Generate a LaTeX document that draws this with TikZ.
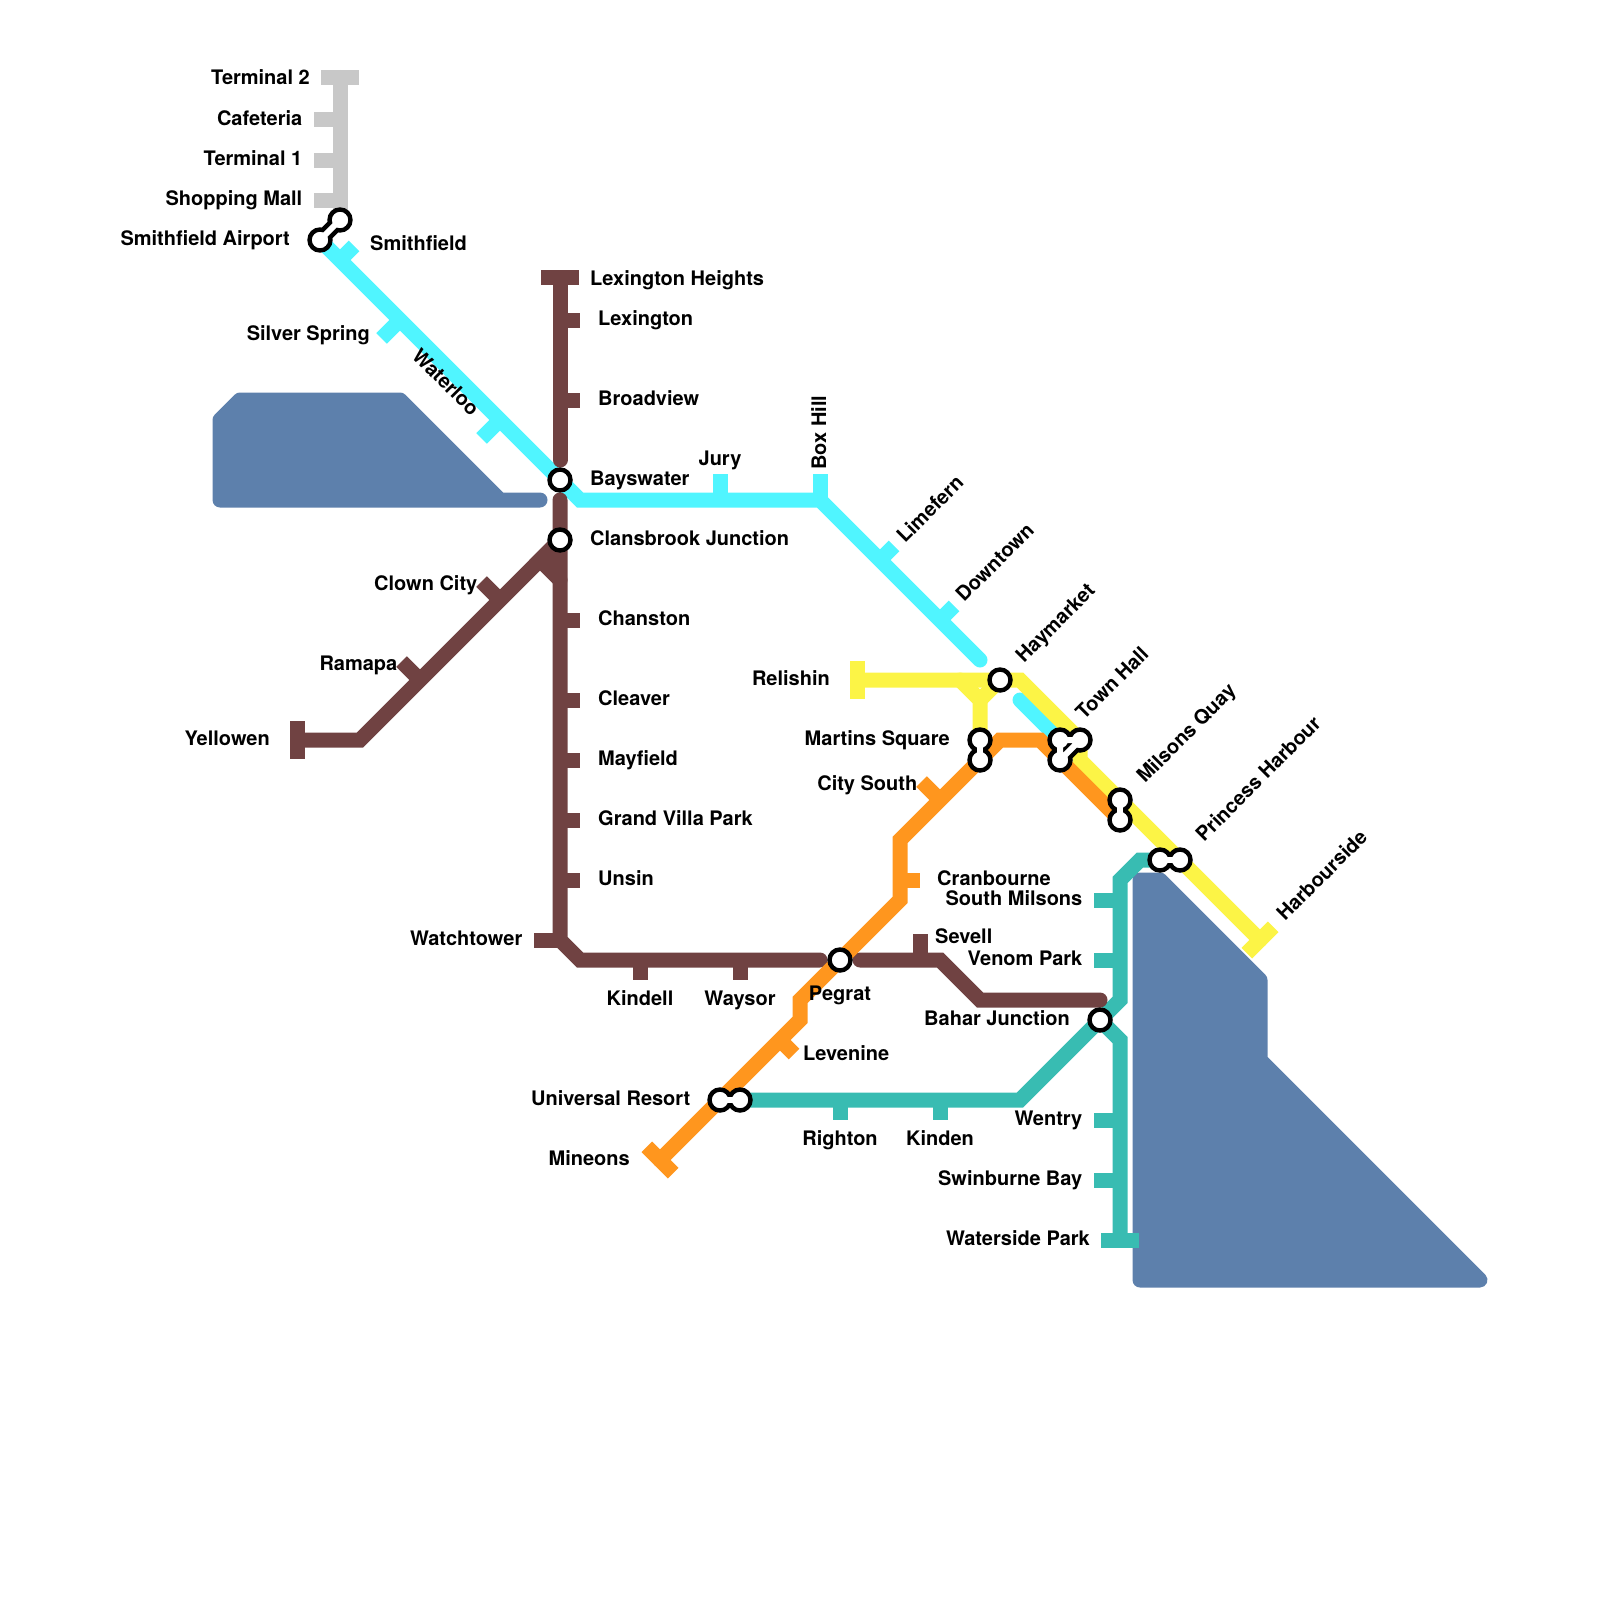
\documentclass[tikz,border=0pt]{standalone}
\usepackage{fontspec}
\setmainfont{TeX Gyre Heros}
\definecolor{MapGrey}{RGB}{200,200,200}
\definecolor{MapCyan}{RGB}{80,245,255}
\definecolor{MapBrown}{RGB}{112,66,66}
\definecolor{MapYellow}{RGB}{252,244,70}
\definecolor{MapOrange}{RGB}{255,150,30}
\definecolor{MapTeal}{RGB}{56,188,178}
\definecolor{MapWater}{RGB}{93,128,172}
\begin{document}
\begin{tikzpicture}[x=1pt,y=-1pt,
    water/.style={draw=MapWater,fill=MapWater,line width=15pt,line join=round,line cap=round},
    route/.style={line width=15pt,line cap=round},
    stub/.style={line width=15pt,line cap=butt},
    linkblack/.style={line width=15pt,line join=round,black},
    linkwhite/.style={line width=6pt,line join=round,white},
    stn/.style={circle,draw=black,fill=white,line width=4.4pt,minimum size=21pt,inner sep=0pt},
    lbl/.style={font=\fontsize{20}{24}\selectfont\bfseries,inner sep=0pt,text=black},
    lble/.style={lbl,anchor=base east},
    lblw/.style={lbl,anchor=base west},
    lblc/.style={lbl,anchor=base}]
  \useasboundingbox (0,0) rectangle (1600,1600);

  \coordinate (terminaltwo) at (340,77.5);
  \coordinate (cafeteria) at (340,120);
  \coordinate (terminalone) at (340,160);
  \coordinate (shopping) at (340,200);
  \coordinate (airportgrey) at (340,220);
  \coordinate (airport) at (320,240);
  \coordinate (smithfield) at (340,260);
  \coordinate (silver) at (400,320);
  \coordinate (waterloo) at (500,420);
  \coordinate (bayswater) at (560,480);
  \coordinate (cyanA) at (580,500);
  \coordinate (jury) at (720,500);
  \coordinate (boxhill) at (820,500);
  \coordinate (limefern) at (880,560);
  \coordinate (downtown) at (940,620);
  \coordinate (cyanB) at (980,660);
  \coordinate (cyanC) at (1020,700);
  \coordinate (townA) at (1060,740);
  \coordinate (townB) at (1080,740);
  \coordinate (townC) at (1060,760);
  \coordinate (lexheights) at (560,277.5);
  \coordinate (lexington) at (560,320);
  \coordinate (broadview) at (560,400);
  \coordinate (brownA) at (560,460);
  \coordinate (brownB) at (560,500);
  \coordinate (clansbrook) at (560,540);
  \coordinate (brownC) at (540,560);
  \coordinate (brownD) at (560,580);
  \coordinate (chanston) at (560,620);
  \coordinate (cleaver) at (560,700);
  \coordinate (mayfield) at (560,760);
  \coordinate (grandvilla) at (560,820);
  \coordinate (unsin) at (560,880);
  \coordinate (watchtower) at (560,940);
  \coordinate (brownE) at (580,960);
  \coordinate (kindell) at (640,960);
  \coordinate (waysor) at (740,960);
  \coordinate (brownF) at (820,960);
  \coordinate (pegrat) at (840,960);
  \coordinate (brownG) at (860,960);
  \coordinate (sevell) at (920,960);
  \coordinate (brownH) at (940,960);
  \coordinate (brownI) at (980,1000);
  \coordinate (brownJ) at (1100,1000);
  \coordinate (clown) at (500,600);
  \coordinate (ramapa) at (420,680);
  \coordinate (brownK) at (360,740);
  \coordinate (yellowen) at (297.5,740);
  \coordinate (relishin) at (857.5,680);
  \coordinate (yellowA) at (960,680);
  \coordinate (yellowB) at (980,700);
  \coordinate (martins) at (980,740);
  \coordinate (haymarket) at (1000,680);
  \coordinate (yellowC) at (1020,680);
  \coordinate (yellowD) at (1080,760);
  \coordinate (harbourside) at (1260,940);
  \coordinate (milsonsA) at (1120,800);
  \coordinate (milsonsB) at (1120,820);
  \coordinate (princessA) at (1160,860);
  \coordinate (princessB) at (1180,860);
  \coordinate (mineons) at (660,1160);
  \coordinate (universalA) at (720,1100);
  \coordinate (universalB) at (740,1100);
  \coordinate (levenine) at (780,1040);
  \coordinate (orangeA) at (800,1020);
  \coordinate (orangeB) at (800,1000);
  \coordinate (orangeC) at (900,900);
  \coordinate (cranbourne) at (900,880);
  \coordinate (orangeD) at (900,840);
  \coordinate (citysouth) at (940,800);
  \coordinate (martinsB) at (980,760);
  \coordinate (orangeE) at (1000,740);
  \coordinate (orangeF) at (1040,740);
  \coordinate (tealA) at (1140,860);
  \coordinate (tealB) at (1120,880);
  \coordinate (southmilsons) at (1120,900);
  \coordinate (venom) at (1120,960);
  \coordinate (tealC) at (1120,1000);
  \coordinate (bahar) at (1100,1020);
  \coordinate (tealD) at (1120,1040);
  \coordinate (wentry) at (1120,1120);
  \coordinate (swinburne) at (1120,1180);
  \coordinate (waterside) at (1120,1240);
  \coordinate (tealE) at (1020,1100);
  \coordinate (kinden) at (940,1100);
  \coordinate (righton) at (840,1100);

  \draw[water] (220,420) -- (240,400) -- (400,400) -- (500,500) -- (540,500) -- (220,500) -- cycle;
  \draw[water] (1140,880) -- (1160,880) -- (1260,980) -- (1260,1060) -- (1480,1280) -- (1140,1280) -- cycle;

  \draw[route,MapGrey] (terminaltwo) -- (airportgrey);
  \draw[stub,MapGrey] (terminaltwo) ++(-18.7,0) -- ++(37.4,0);
  \draw[stub,MapGrey] (cafeteria) -- ++(-26,0);
  \draw[stub,MapGrey] (terminalone) -- ++(-26,0);
  \draw[stub,MapGrey] (shopping) -- ++(-26,0);

  \draw[route,MapCyan] (airport) -- (bayswater) -- (cyanA) -- (boxhill) -- (cyanB);
  \draw[route,MapCyan] (cyanC) -- (townA);
  \draw[stub,MapCyan] (smithfield) -- ++(14.1,-14.1);
  \draw[stub,MapCyan] (silver) -- ++(-18.4,18.4);
  \draw[stub,MapCyan] (waterloo) -- ++(-18.4,18.4);
  \draw[stub,MapCyan] (jury) -- ++(0,-26);
  \draw[stub,MapCyan] (boxhill) -- ++(0,-26);
  \draw[stub,MapCyan] (limefern) -- ++(14.1,-14.1);
  \draw[stub,MapCyan] (downtown) -- ++(14.1,-14.1);

  \draw[route,MapTeal] (princessA) -- (tealA) -- (tealB) -- (tealC) -- (bahar) -- (tealE) -- (universalB);
  \draw[route,MapTeal] (bahar) -- (tealD) -- (waterside);
  \draw[stub,MapTeal] (waterside) ++(-18.7,0) -- ++(37.4,0);
  \draw[stub,MapTeal] (southmilsons) -- ++(-26,0);
  \draw[stub,MapTeal] (venom) -- ++(-26,0);
  \draw[stub,MapTeal] (wentry) -- ++(-26,0);
  \draw[stub,MapTeal] (swinburne) -- ++(-26,0);
  \draw[stub,MapTeal] (righton) -- ++(0,20);
  \draw[stub,MapTeal] (kinden) -- ++(0,20);

  \draw[route,MapBrown] (lexheights) -- (brownA);
  \draw[route,MapBrown] (brownB) -- (watchtower) -- (brownE) -- (brownF);
  \draw[route,MapBrown] (brownG) -- (brownH) -- (brownI) -- (brownJ);
  \draw[route,MapBrown] (yellowen) -- (brownK) -- (clansbrook);
  \draw[route,MapBrown,fill=MapBrown] (brownD) -- (brownC) -- (clansbrook);
  \draw[stub,MapBrown] (lexheights) ++(-18.7,0) -- ++(37.4,0);
  \draw[stub,MapBrown] (yellowen) ++(0,-18.7) -- ++(0,37.4);
  \draw[stub,MapBrown] (lexington) -- ++(20,0);
  \draw[stub,MapBrown] (broadview) -- ++(20,0);
  \draw[stub,MapBrown] (chanston) -- ++(20,0);
  \draw[stub,MapBrown] (cleaver) -- ++(20,0);
  \draw[stub,MapBrown] (mayfield) -- ++(20,0);
  \draw[stub,MapBrown] (grandvilla) -- ++(20,0);
  \draw[stub,MapBrown] (unsin) -- ++(20,0);
  \draw[stub,MapBrown] (watchtower) -- ++(-26,0);
  \draw[stub,MapBrown] (kindell) -- ++(0,20);
  \draw[stub,MapBrown] (waysor) -- ++(0,20);
  \draw[stub,MapBrown] (sevell) -- ++(0,-26);
  \draw[stub,MapBrown] (clown) -- ++(-18.4,-18.4);
  \draw[stub,MapBrown] (ramapa) -- ++(-18.4,-18.4);

  \draw[route,MapYellow] (relishin) -- (yellowC) -- (townB) -- (yellowD) -- (harbourside);
  \draw[route,MapYellow] (yellowA) -- (yellowB) -- (martins);
  \draw[route,MapYellow] (haymarket) -- (yellowB);
  \draw[stub,MapYellow] (relishin) ++(0,-18.7) -- ++(0,37.4);
  \draw[stub,MapYellow] (harbourside) ++(13.2,-13.2) -- ++(-26.4,26.4);

  \draw[route,MapOrange] (mineons) -- (universalA) -- (orangeA) -- (orangeB) -- (pegrat) -- (orangeC) -- (orangeD) -- (martinsB) -- (orangeE) -- (orangeF) -- (milsonsB);
  \draw[stub,MapOrange] (mineons) ++(-13.2,-13.2) -- ++(26.4,26.4);
  \draw[stub,MapOrange] (cranbourne) -- ++(20,0);
  \draw[stub,MapOrange] (citysouth) -- ++(-18.4,-18.4);
  \draw[stub,MapOrange] (levenine) -- ++(14.1,14.1);

  \draw[linkblack] (airport) -- (airportgrey);
  \draw[linkblack] (martins) -- (martinsB);
  \draw[linkblack] (townA) -- (townB) -- (townC) -- cycle;
  \draw[linkblack] (milsonsA) -- (milsonsB);
  \draw[linkblack] (princessA) -- (princessB);
  \draw[linkblack] (universalA) -- (universalB);

  \node[stn] (airportstn) at (airport) {};
  \node[stn] (airportgreystn) at (airportgrey) {};
  \node[stn] (bayswaterstn) at (bayswater) {};
  \node[stn] (clansbrookstn) at (clansbrook) {};
  \node[stn] (pegratstn) at (pegrat) {};
  \node[stn] (haymarketstn) at (haymarket) {};
  \node[stn] (baharstn) at (bahar) {};
  \node[stn] (martinsstn) at (martins) {};
  \node[stn] (martinsBstn) at (martinsB) {};
  \node[stn] (townAstn) at (townA) {};
  \node[stn] (townBstn) at (townB) {};
  \node[stn] (townCstn) at (townC) {};
  \node[stn] (milsonsAstn) at (milsonsA) {};
  \node[stn] (milsonsBstn) at (milsonsB) {};
  \node[stn] (princessAstn) at (princessA) {};
  \node[stn] (princessBstn) at (princessB) {};
  \node[stn] (universalAstn) at (universalA) {};
  \node[stn] (universalBstn) at (universalB) {};

  \draw[linkwhite] (airportstn.center) -- (airportgreystn.center);
  \draw[linkwhite] (martinsstn.center) -- (martinsBstn.center);
  \draw[linkwhite] (townAstn.center) -- (townBstn.center) -- (townCstn.center) -- cycle;
  \draw[linkwhite] (milsonsAstn.center) -- (milsonsBstn.center);
  \draw[linkwhite] (princessAstn.center) -- (princessBstn.center);
  \draw[linkwhite] (universalAstn.center) -- (universalBstn.center);

  \node[lble] (lterminaltwo) at (310,85) {Terminal 2};
  \node[lble] (lcafeteria) at (302.5,125) {Cafeteria};
  \node[lble] (lterminalone) at (302.5,165) {Terminal 1};
  \node[lble] (lshopping) at (302.5,205) {Shopping Mall};
  \node[lble] (lairport) at (290,245) {Smithfield Airport};
  \node[lblw] (lsmithfield) at (370,250) {Smithfield};
  \node[lble] (lsilver) at (370,340) {Silver Spring};
  \node[lbl,rotate=-45] (lwaterloo) at (446,382) {Waterloo};
  \node[lblw] (llexheights) at (590,285) {Lexington Heights};
  \node[lblw] (llexington) at (598,325) {Lexington};
  \node[lblw] (lbroadview) at (598,405) {Broadview};
  \node[lblw] (lbayswater) at (590,485) {Bayswater};
  \node[lblc] (ljury) at (720,465) {Jury};
  \node[lbl,rotate=90,anchor=base west] (lboxhill) at (826,470) {Box Hill};
  \node[lbl,rotate=45,anchor=base west] (llimefern) at (905,544) {Limefern};
  \node[lbl,rotate=45,anchor=base west] (ldowntown) at (964,603) {Downtown};
  \node[lbl,rotate=45,anchor=base west] (lhaymarket) at (1024,664) {Haymarket};
  \node[lbl,rotate=45,anchor=base west] (ltown) at (1084,721) {Town Hall};
  \node[lbl,rotate=45,anchor=base west] (lmilsons) at (1145,784) {Milsons Quay};
  \node[lbl,rotate=45,anchor=base west] (lprincess) at (1204,843) {Princess Harbour};
  \node[lbl,rotate=45,anchor=base west] (lharbourside) at (1285,922) {Harbourside};
  \node[lblw] (lclansbrook) at (590,545) {Clansbrook Junction};
  \node[lble] (lclown) at (477.5,590) {Clown City};
  \node[lble] (lramapa) at (397.5,670) {Ramapa};
  \node[lble] (lyellowen) at (270,745) {Yellowen};
  \node[lblw] (lchanston) at (598,625) {Chanston};
  \node[lblw] (lcleaver) at (598,705) {Cleaver};
  \node[lblw] (lmayfield) at (598,765) {Mayfield};
  \node[lblw] (lgrandvilla) at (598,825) {Grand Villa Park};
  \node[lblw] (lunsin) at (598,885) {Unsin};
  \node[lble] (lwatchtower) at (522.5,945) {Watchtower};
  \node[lblc] (lkindell) at (640,1005) {Kindell};
  \node[lblc] (lwaysor) at (740,1005) {Waysor};
  \node[lblc] (lpegrat) at (840,1000) {Pegrat};
  \node[lblw] (lsevell) at (935,943) {Sevell};
  \node[lble] (lrelishin) at (830,685) {Relishin};
  \node[lble] (lmartins) at (950,745) {Martins Square};
  \node[lble] (lcitysouth) at (917.5,790) {City South};
  \node[lblw] (lcranbourne) at (937,885) {Cranbourne};
  \node[lble] (lsouthmilsons) at (1082.5,905) {South Milsons};
  \node[lble] (lvenom) at (1082.5,965) {Venom Park};
  \node[lble] (lbahar) at (1070,1025) {Bahar Junction};
  \node[lblw] (llevenine) at (803,1060) {Levenine};
  \node[lble] (luniversal) at (690.5,1105) {Universal Resort};
  \node[lble] (lmineons) at (630,1165) {Mineons};
  \node[lblc] (lrighton) at (840,1145) {Righton};
  \node[lblc] (lkinden) at (940,1145) {Kinden};
  \node[lble] (lwentry) at (1082.5,1125) {Wentry};
  \node[lble] (lswinburne) at (1082.5,1185) {Swinburne Bay};
  \node[lble] (lwaterside) at (1090,1245) {Waterside Park};
\end{tikzpicture}
\end{document}
